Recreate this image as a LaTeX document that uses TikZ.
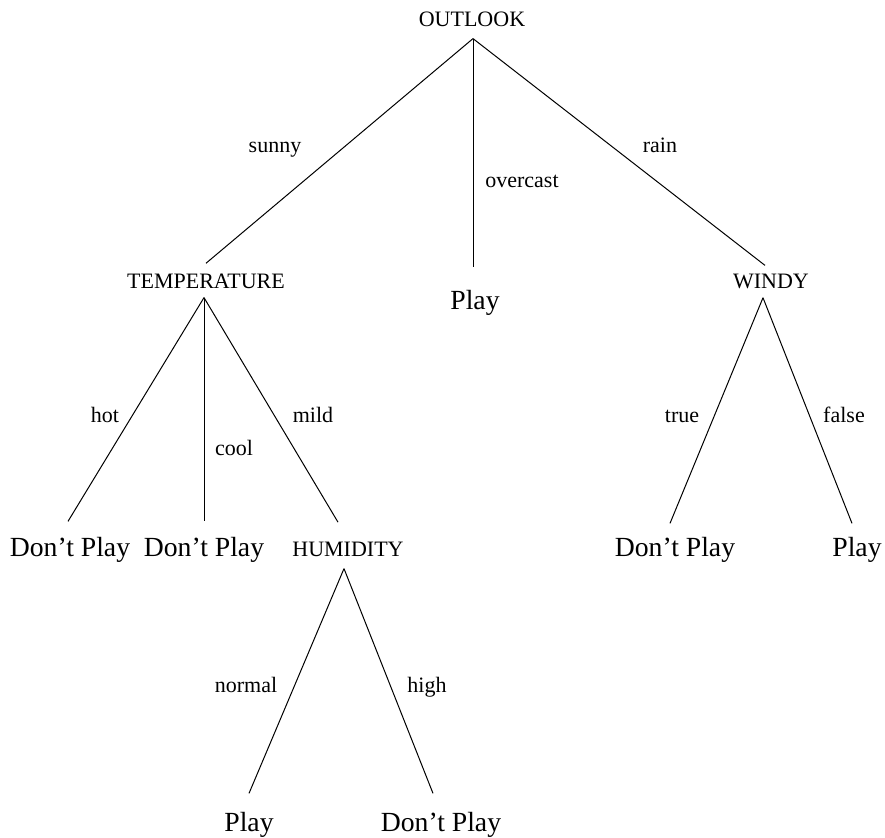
\documentclass[tikz,border=0pt]{standalone}
\usepackage{fontspec}
\setmainfont{Liberation Serif}
\usepackage{tikz}

\tikzset{
  attr/.style={font=\fontsize{11}{13}\selectfont, inner sep=0pt, anchor=base},
  leaf/.style={font=\fontsize{13.85}{16}\selectfont, inner sep=0pt, anchor=base},
  val/.style={font=\fontsize{11}{13}\selectfont, inner sep=0pt, anchor=base},
  branch/.style={line width=0.5pt}
}

\begin{document}
\begin{tikzpicture}[x=0.5pt, y=-0.5pt]

  \useasboundingbox (0, 0) rectangle (885, 838);

  % attribute nodes
  \node[attr] (outlook) at (472, 27) {OUTLOOK};
  \node[attr] (temp) at (206, 289) {TEMPERATURE};
  \node[attr] (windy) at (771, 289) {WINDY};
  \node[attr] (humid) at (348, 557) {HUMIDITY};

  % leaves
  \node[leaf] (play1) at (475, 310) {Play};
  \node[leaf] (dont1) at (70, 557) {Don't Play};
  \node[leaf] (dont2) at (204, 557) {Don't Play};
  \node[leaf] (dont3) at (675, 557) {Don't Play};
  \node[leaf] (play2) at (857, 557) {Play};
  \node[leaf] (play3) at (249, 832) {Play};
  \node[leaf] (dont4) at (441, 832) {Don't Play};

  % branches
  \draw[branch] ([xshift=0.5pt, yshift=-5.5pt]outlook.south) -- ([yshift=5.4pt]temp.north);
  \draw[branch] ([xshift=0.5pt, yshift=-5.5pt]outlook.south) -- ([xshift=-1pt, yshift=11.5pt]play1.north);
  \draw[branch] ([xshift=0.5pt, yshift=-5.5pt]outlook.south) -- ([xshift=-3pt, yshift=4.4pt]windy.north);

  \draw[branch] ([xshift=-1pt, yshift=-4pt]temp.south) -- ([xshift=-1pt, yshift=8pt]dont1.north);
  \draw[branch] ([xshift=-1pt, yshift=-4pt]temp.south) -- ([yshift=8pt]dont2.north);
  \draw[branch] ([xshift=-1pt, yshift=-4pt]temp.south) -- ([xshift=-5pt, yshift=10pt]humid.north);

  \draw[branch] ([xshift=-4pt, yshift=-4pt]windy.south) -- ([xshift=-2.5pt, yshift=7pt]dont3.north);
  \draw[branch] ([xshift=-4pt, yshift=-4pt]windy.south) -- ([xshift=-2.5pt, yshift=7pt]play2.north);

  \draw[branch] ([xshift=-2pt, yshift=-5.5pt]humid.south) -- ([yshift=9.5pt]play3.north);
  \draw[branch] ([xshift=-2pt, yshift=-5.5pt]humid.south) -- ([xshift=-4pt, yshift=9.5pt]dont4.north);

  % branch values
  \node[val] (sunny) at (275, 153) {sunny};
  \node[val] (overcast) at (522, 188) {overcast};
  \node[val] (rain) at (660, 153) {rain};
  \node[val] (hot) at (105, 423) {hot};
  \node[val] (cool) at (234, 456) {cool};
  \node[val] (mild) at (313, 423) {mild};
  \node[val] (true) at (682, 423) {true};
  \node[val] (false) at (844, 423) {false};
  \node[val] (normal) at (246, 693) {normal};
  \node[val] (high) at (427, 693) {high};

\end{tikzpicture}
\end{document}
